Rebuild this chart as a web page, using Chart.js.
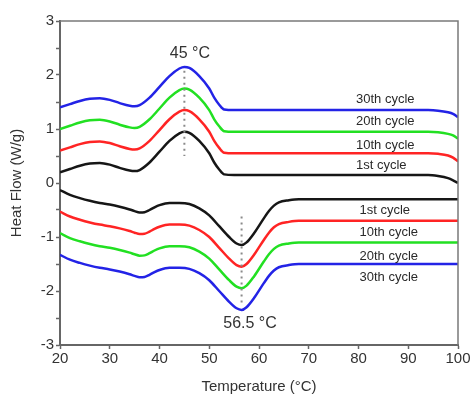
<!DOCTYPE html>
<html>
<head>
<meta charset="utf-8">
<script src="https://cdn.jsdelivr.net/npm/chart.js@4"></script>
<style>
  html, body { margin: 0; padding: 0; background: #fff; }
  #wrap { width: 475px; height: 400px; }
</style>
</head>
<body>
<div id="wrap"><canvas id="dscChart"></canvas></div>
<script>
// Heating scans (upper curves)
const heatTemps = [20, 22, 24, 26, 28, 30, 32, 34, 35, 36, 38, 40, 42, 44, 45, 46, 48, 50, 51, 52, 53, 55, 60, 70, 80, 90, 94, 96, 98, 99, 100];
const heat30 = [1.40, 1.46, 1.52, 1.56, 1.57, 1.54, 1.48, 1.43, 1.42, 1.44, 1.58, 1.78, 1.98, 2.12, 2.15, 2.13, 1.98, 1.75, 1.58, 1.45, 1.36, 1.35, 1.35, 1.35, 1.35, 1.35, 1.35, 1.34, 1.31, 1.28, 1.22];
const heat20 = [1.00, 1.06, 1.12, 1.16, 1.17, 1.14, 1.08, 1.03, 1.02, 1.04, 1.18, 1.38, 1.58, 1.72, 1.75, 1.73, 1.58, 1.35, 1.18, 1.05, 0.96, 0.95, 0.95, 0.95, 0.95, 0.95, 0.95, 0.94, 0.91, 0.88, 0.82];
const heat10 = [0.60, 0.66, 0.72, 0.76, 0.77, 0.74, 0.68, 0.63, 0.62, 0.64, 0.78, 0.98, 1.18, 1.32, 1.35, 1.33, 1.18, 0.95, 0.78, 0.65, 0.56, 0.55, 0.55, 0.55, 0.55, 0.55, 0.55, 0.54, 0.51, 0.47, 0.40];
const heat1 = [0.20, 0.26, 0.32, 0.36, 0.37, 0.34, 0.28, 0.23, 0.22, 0.24, 0.38, 0.58, 0.78, 0.92, 0.95, 0.93, 0.78, 0.55, 0.38, 0.25, 0.16, 0.15, 0.15, 0.15, 0.15, 0.15, 0.15, 0.13, 0.09, 0.05, 0.00];

// Cooling scans (lower curves)
const coolTemps = [20, 22, 24, 26, 28, 30, 32, 34, 35, 36, 37, 38, 39, 40, 42, 44, 46, 48, 50, 52, 54, 55.5, 56.5, 57.5, 59, 61, 62, 63, 64, 66, 68, 70, 80, 90, 100];
const cool1 = [-0.13, -0.22, -0.28, -0.33, -0.37, -0.40, -0.44, -0.49, -0.52, -0.545, -0.54, -0.50, -0.45, -0.41, -0.37, -0.37, -0.39, -0.47, -0.60, -0.80, -1.00, -1.12, -1.15, -1.10, -0.93, -0.65, -0.52, -0.42, -0.36, -0.32, -0.30, -0.30, -0.30, -0.30, -0.30];
const cool10 = [-0.53, -0.62, -0.68, -0.73, -0.77, -0.80, -0.84, -0.89, -0.92, -0.945, -0.94, -0.90, -0.85, -0.81, -0.77, -0.77, -0.79, -0.87, -1.00, -1.20, -1.40, -1.52, -1.55, -1.50, -1.33, -1.05, -0.92, -0.82, -0.76, -0.72, -0.70, -0.70, -0.70, -0.70, -0.70];
const cool20 = [-0.93, -1.02, -1.08, -1.13, -1.17, -1.20, -1.24, -1.29, -1.32, -1.345, -1.34, -1.30, -1.25, -1.21, -1.17, -1.17, -1.19, -1.27, -1.40, -1.60, -1.80, -1.92, -1.95, -1.90, -1.73, -1.45, -1.32, -1.22, -1.16, -1.12, -1.10, -1.10, -1.10, -1.10, -1.10];
const cool30 = [-1.33, -1.42, -1.48, -1.53, -1.57, -1.60, -1.64, -1.69, -1.72, -1.745, -1.74, -1.70, -1.65, -1.61, -1.57, -1.57, -1.59, -1.67, -1.80, -2.00, -2.20, -2.32, -2.35, -2.30, -2.13, -1.85, -1.72, -1.62, -1.56, -1.52, -1.50, -1.50, -1.50, -1.50, -1.50];

// Peak markers (dotted verticals)
const meltPeakX = [45, 45];
const meltPeakY = [2.08, 0.50];
const crystPeakX = [56.5, 56.5];
const crystPeakY = [-0.62, -2.22];

const cycleNames = ['30th cycle', '20th cycle', '10th cycle', '1st cycle'];

const xTickMin = 20, xTickMax = 100;
const yTickMin = -3, yTickMax = 3;

function pts(xs, ys) {
  return xs.map((x, i) => ({ x: x, y: ys[i] }));
}

function curve(label, xs, ys, color) {
  return {
    label: label,
    data: pts(xs, ys),
    borderColor: color,
    borderWidth: 2.5,
    pointRadius: 0,
    fill: false,
    cubicInterpolationMode: 'monotone'
  };
}

function dotted(xs, ys) {
  return {
    label: 'peak',
    data: pts(xs, ys),
    borderColor: '#8a8a8a',
    borderWidth: 2,
    borderDash: [2, 4],
    pointRadius: 0,
    fill: false
  };
}

const colors = ['#2323e6', '#22e022', '#ff2424', '#161616'];

const datasets = [
  dotted(meltPeakX, meltPeakY),
  dotted(crystPeakX, crystPeakY),
  curve(cycleNames[0], heatTemps, heat30, colors[0]),
  curve(cycleNames[1], heatTemps, heat20, colors[1]),
  curve(cycleNames[2], heatTemps, heat10, colors[2]),
  curve(cycleNames[3], heatTemps, heat1, colors[3]),
  curve(cycleNames[0], coolTemps, cool30, colors[0]),
  curve(cycleNames[1], coolTemps, cool20, colors[1]),
  curve(cycleNames[2], coolTemps, cool10, colors[2]),
  curve(cycleNames[3], coolTemps, cool1, colors[3])
];

// frame + text labels placed in data coordinates
const decorations = {
  id: 'decorations',
  afterDatasetsDraw(chart) {
    const { ctx, chartArea: a, scales: { x, y } } = chart;
    ctx.save();
    ctx.strokeStyle = '#7a7a7a';
    ctx.lineWidth = 1.5;
    ctx.beginPath();
    ctx.moveTo(a.left, a.top);
    ctx.lineTo(a.right, a.top);
    ctx.lineTo(a.right, a.bottom);
    ctx.stroke();

    ctx.fillStyle = '#2a2a2a';
    ctx.textBaseline = 'middle';
    ctx.textAlign = 'left';
    ctx.font = '13px "Liberation Sans", Arial, sans-serif';
    const upperY = [1.55, 1.14, 0.70, 0.33];
    const lowerY = [-1.75, -1.36, -0.92, -0.50];
    cycleNames.forEach((name, i) => {
      ctx.fillText(name, x.getPixelForValue(79.5), y.getPixelForValue(upperY[i]));
      ctx.fillText(name, x.getPixelForValue(80.2), y.getPixelForValue(lowerY[i]));
    });

    ctx.textAlign = 'center';
    ctx.font = '16px "Liberation Sans", Arial, sans-serif';
    ctx.fillStyle = '#333';
    ctx.fillText('45 °C', x.getPixelForValue(46.1), y.getPixelForValue(2.4));
    ctx.fillText('56.5 °C', x.getPixelForValue(58.2), y.getPixelForValue(-2.6));
    ctx.restore();
  }
};

const ctx = document.getElementById('dscChart').getContext('2d');

const myChart = new Chart(ctx, {
  type: 'line',
  data: { datasets: datasets },
  options: {
    responsive: true,
    maintainAspectRatio: false,
    animation: false,
    layout: { padding: { top: 21, right: 17, left: 0, bottom: 0 } },
    plugins: {
      legend: { display: false },
      tooltip: { enabled: false }
    },
    scales: {
      x: {
        type: 'linear',
        min: xTickMin,
        max: xTickMax,
        grid: { display: true, drawOnChartArea: false, drawTicks: true, tickLength: 4, tickColor: '#666', tickWidth: 1.5 },
        border: { display: true, color: '#666', width: 2 },
        ticks: {
          stepSize: 5,
          color: '#333',
          font: { size: 15, family: '"Liberation Sans", Arial, sans-serif' },
          padding: 1,
          maxRotation: 0,
          callback: v => (v % 10 === 0 ? v : '')
        },
        title: {
          display: true,
          text: 'Temperature (°C)',
          color: '#333',
          font: { size: 15, family: '"Liberation Sans", Arial, sans-serif' },
          padding: { top: 2 }
        },
        afterFit(scale) { scale.height = 55; }
      },
      y: {
        min: yTickMin,
        max: yTickMax,
        grid: { display: true, drawOnChartArea: false, drawTicks: true, tickLength: 4, tickColor: '#666', tickWidth: 1.5 },
        border: { display: true, color: '#666', width: 2 },
        ticks: {
          stepSize: 0.5,
          color: '#333',
          font: { size: 15, family: '"Liberation Sans", Arial, sans-serif' },
          padding: 2,
          callback: v => (Number.isInteger(v) ? v : '')
        },
        title: {
          display: true,
          text: 'Heat Flow (W/g)',
          color: '#333',
          font: { size: 15, family: '"Liberation Sans", Arial, sans-serif' },
          padding: { top: 8, bottom: 4 }
        },
        afterFit(scale) { scale.width = 60; }
      }
    }
  },
  plugins: [decorations]
});
myChart.update();
</script>
</body>
</html>
